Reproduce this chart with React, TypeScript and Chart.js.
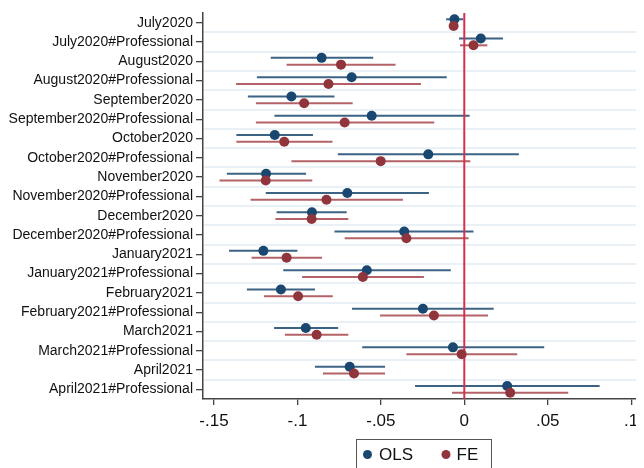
import React, { useEffect, useRef } from 'react';
import { Chart, registerables } from 'chart.js';
Chart.register(...registerables);

const categories = [
  'July2020', 'July2020#Professional', 'August2020', 'August2020#Professional',
  'September2020', 'September2020#Professional', 'October2020', 'October2020#Professional',
  'November2020', 'November2020#Professional', 'December2020', 'December2020#Professional',
  'January2021', 'January2021#Professional', 'February2021', 'February2021#Professional',
  'March2021', 'March2021#Professional', 'April2021', 'April2021#Professional',
];

const seriesNames = ['OLS', 'FE'];

const olsCoef = [-0.0059, 0.0099, -0.0855, -0.0675, -0.1036, -0.0555, -0.1136, -0.0216, -0.1188, -0.0701,
  -0.0913, -0.036, -0.1204, -0.0584, -0.1099, -0.0248, -0.095, -0.0068, -0.0687, 0.0257];
const olsLow = [-0.0109, -0.0032, -0.116, -0.1243, -0.1297, -0.1138, -0.1366, -0.0758, -0.1423, -0.119,
  -0.1125, -0.0778, -0.141, -0.1085, -0.1303, -0.0673, -0.114, -0.0612, -0.0895, -0.0295];
const olsHigh = [-0.0006, 0.0232, -0.0546, -0.0105, -0.0778, 0.0032, -0.0907, 0.0327, -0.0948, -0.0212,
  -0.0705, 0.0055, -0.1, -0.0081, -0.0895, 0.0176, -0.0756, 0.0479, -0.0475, 0.0811];

const feCoef = [-0.0064, 0.0055, -0.0739, -0.0814, -0.096, -0.0717, -0.1079, -0.0501, -0.119, -0.0826,
  -0.0915, -0.0347, -0.1065, -0.0608, -0.0996, -0.0182, -0.0885, -0.0016, -0.0661, 0.0275];
const feLow = [-0.0088, -0.0026, -0.1065, -0.1368, -0.1249, -0.1249, -0.1366, -0.1036, -0.1467, -0.1281,
  -0.1132, -0.0717, -0.1275, -0.0972, -0.12, -0.0505, -0.1075, -0.0347, -0.0847, -0.0074];
const feHigh = [-0.004, 0.0138, -0.0412, -0.026, -0.0669, -0.018, -0.079, 0.0036, -0.0911, -0.0368,
  -0.0695, 0.0026, -0.0853, -0.0242, -0.0788, 0.0142, -0.0695, 0.0317, -0.0475, 0.0623];

const xTickValues = [-0.15, -0.1, -0.05, 0, 0.05, 0.1];
const xTickLabels = ['-.15', '-.1', '-.05', '0', '.05', '.1'];

const NAVY = '#1a476f';
const MAROON = '#90353b';
const NAVY_CI = 'rgba(26,71,111,0.85)';
const MAROON_CI = 'rgba(160,60,66,0.8)';
const ZERO_RED = '#d8304c';
const GRID = '#eaf1f6';
const AXIS = '#444';
const FONT = "'Liberation Sans', Arial, sans-serif";
const OFFSET = 0.175;

const legendPlugin = {
  id: 'boxLegend',
  afterDraw(chart: any) {
    const c = chart.ctx as CanvasRenderingContext2D;
    const area = chart.chartArea;
    const cx = (area.left + area.right) / 2;
    const w = 135;
    const left = cx - w / 2;
    const top = 431.5;
    c.save();
    c.strokeStyle = '#555';
    c.lineWidth = 1;
    c.strokeRect(Math.round(left) + 0.5, top, w, 40);
    const colors = [NAVY, MAROON];
    const dotX = [12, 90.5];
    const textX = [23.5, 101];
    c.font = `17px ${FONT}`;
    c.textBaseline = 'middle';
    c.textAlign = 'left';
    seriesNames.forEach((name, k) => {
      c.fillStyle = colors[k];
      c.beginPath();
      c.arc(left + dotX[k], 446.5, 4.5, 0, Math.PI * 2);
      c.fill();
      c.fillStyle = '#111';
      c.fillText(name, left + textX[k], 447.5);
    });
    c.restore();
  },
};

const noPad = (s: any) => {
  s.paddingTop = 0;
  s.paddingBottom = 0;
  s.paddingLeft = 0;
  s.paddingRight = 0;
};

export default function App() {
  const ref = useRef<HTMLCanvasElement>(null);
  useEffect(() => {
    const canvas = ref.current!;
    const ciSets: any[] = [];
    categories.forEach((_, i) => {
      ciSets.push({
        type: 'line',
        data: [{ x: olsLow[i], y: i - OFFSET }, { x: olsHigh[i], y: i - OFFSET }],
        borderColor: NAVY_CI, borderWidth: 2, pointRadius: 0, order: 3,
      });
      ciSets.push({
        type: 'line',
        data: [{ x: feLow[i], y: i + OFFSET }, { x: feHigh[i], y: i + OFFSET }],
        borderColor: MAROON_CI, borderWidth: 2, pointRadius: 0, order: 3,
      });
    });
    const chart = new Chart(canvas, {
      type: 'scatter',
      data: {
        datasets: [
          ...ciSets,
          {
            type: 'line',
            data: [{ x: 0, y: -0.5 }, { x: 0, y: categories.length - 0.5 }],
            borderColor: ZERO_RED, borderWidth: 2, pointRadius: 0, order: 2,
          },
          {
            label: seriesNames[0],
            data: olsCoef.map((v, i) => ({ x: v, y: i - OFFSET })),
            backgroundColor: NAVY, borderWidth: 0, pointRadius: 5, order: 1,
          },
          {
            label: seriesNames[1],
            data: feCoef.map((v, i) => ({ x: v, y: i + OFFSET })),
            backgroundColor: MAROON, borderWidth: 0, pointRadius: 5, order: 0,
          },
        ] as any,
      },
      options: {
        animation: false,
        responsive: false,
        layout: { padding: { top: 2, right: 0, left: 0, bottom: 0 } },
        plugins: { legend: { display: false }, tooltip: { enabled: false } },
        scales: {
          x: {
            type: 'linear',
            min: -0.1566,
            max: 0.1071,
            afterBuildTicks: (s: any) => { s.ticks = xTickValues.map((v) => ({ value: v })); },
            afterFit: (s: any) => { s.height = 69; noPad(s); },
            ticks: {
              callback: (v: any) => xTickLabels[xTickValues.indexOf(v)] ?? '',
              font: { family: FONT, size: 17 },
              color: '#111',
              padding: 6,
              maxRotation: 0,
              autoSkip: false,
            },
            grid: { drawOnChartArea: false, drawTicks: true, tickLength: 6, color: AXIS, lineWidth: 1.3 },
            border: { display: true, color: AXIS, width: 1.5 },
          },
          y: {
            type: 'linear',
            position: 'left',
            reverse: true,
            min: -0.5,
            max: categories.length - 0.5,
            afterBuildTicks: (s: any) => { s.ticks = categories.map((_, i) => ({ value: i })); },
            afterFit: (s: any) => { s.width = 195; noPad(s); },
            ticks: {
              callback: (v: any) => categories[v] ?? '',
              font: { family: FONT, size: 14 },
              color: '#111',
              padding: 3,
              autoSkip: false,
            },
            grid: { drawOnChartArea: false, drawTicks: true, tickLength: 7, color: AXIS, lineWidth: 1.3 },
            border: { display: true, color: AXIS, width: 1.5 },
          },
          yg: {
            type: 'linear',
            position: 'left',
            reverse: true,
            min: -0.5,
            max: categories.length - 0.5,
            afterBuildTicks: (s: any) => {
              s.ticks = categories.slice(1).map((_, i) => ({ value: i + 0.5 }));
            },
            afterFit: (s: any) => { s.width = 0; noPad(s); },
            ticks: { display: false },
            grid: { drawOnChartArea: true, drawTicks: false, color: GRID, lineWidth: 2 },
            border: { display: false },
          },
        },
      } as any,
      plugins: [legendPlugin],
    });
    return () => chart.destroy();
  }, []);
  return (
    <div style={{ width: 636, height: 460, overflow: 'hidden' }}>
      <canvas ref={ref} width={640} height={460} style={{ display: 'block' }} />
    </div>
  );
}
